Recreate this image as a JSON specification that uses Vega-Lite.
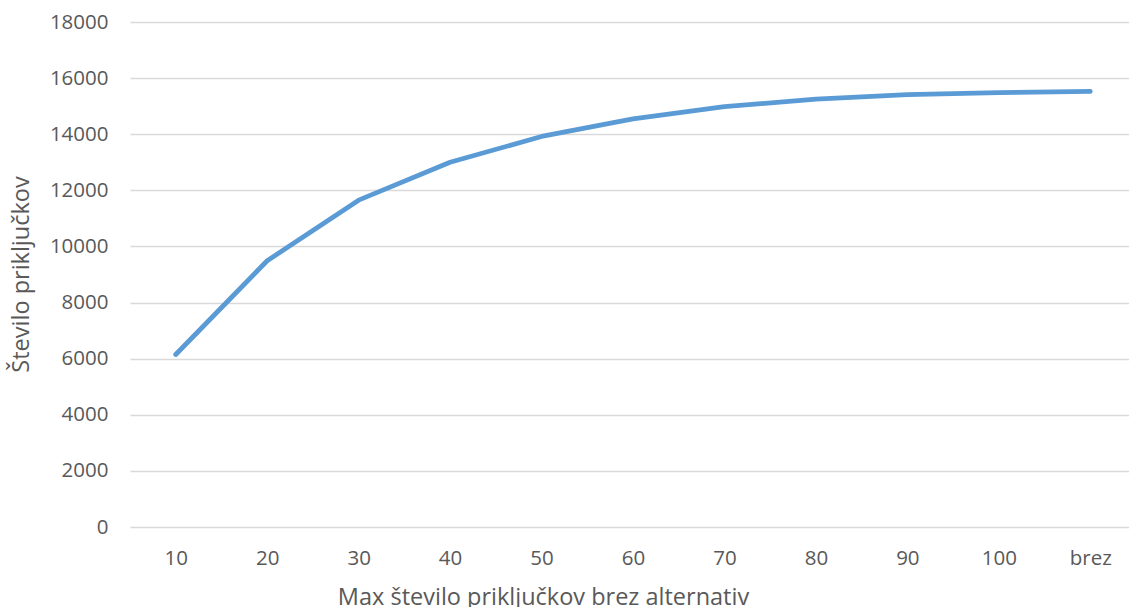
{
  "$schema": "https://vega.github.io/schema/vega-lite/v6.json",
  "autosize": "none",
  "width": 1006,
  "height": 505,
  "padding": {"left": 130, "top": 22, "right": 0, "bottom": 80},
  "background": "white",
  "config": {"view": {"stroke": null}},
  "data": {"values": [
    {"k": "10", "v": 6150},
    {"k": "20", "v": 9490},
    {"k": "30", "v": 11650},
    {"k": "40", "v": 13000},
    {"k": "50", "v": 13920},
    {"k": "60", "v": 14550},
    {"k": "70", "v": 14980},
    {"k": "80", "v": 15250},
    {"k": "90", "v": 15410},
    {"k": "100", "v": 15480},
    {"k": "brez", "v": 15525}
  ]},
  "mark": {"type": "line", "color": "#5B9BD5", "strokeWidth": 4.8, "strokeCap": "round", "strokeJoin": "round"},
  "encoding": {
    "x": {
      "field": "k", "type": "ordinal", "sort": null,
      "scale": {"type": "point", "padding": 0.5},
      "axis": {
        "title": "Max število priključkov brez alternativ",
        "labelAngle": 0, "labelFont": "Open Sans", "labelFontSize": 20.5, "labelColor": "#595959",
        "labelPadding": 21, "labelBaseline": "top",
        "domain": false, "ticks": false, "grid": false,
        "titleFont": "Open Sans", "titleFontSize": 23.5, "titleFontWeight": "normal", "titleColor": "#595959",
        "titleAnchor": "start", "titleAlign": "center", "titleX": 413, "titleY": 77, "titleBaseline": "alphabetic"
      }
    },
    "y": {
      "field": "v", "type": "quantitative",
      "scale": {"domain": [0, 18000], "nice": false},
      "axis": {
        "title": "Število priključkov",
        "values": [0, 2000, 4000, 6000, 8000, 10000, 12000, 14000, 16000, 18000],
        "format": "d",
        "labelFont": "Open Sans", "labelFontSize": 20.5, "labelColor": "#595959", "labelPadding": 22,
        "domain": false, "ticks": false,
        "grid": true, "gridColor": "#D9D9D9", "gridWidth": 1.5,
        "titleFont": "Open Sans", "titleFontSize": 23.5, "titleFontWeight": "normal", "titleColor": "#595959",
        "titleAnchor": "start", "titleAngle": -90, "titleAlign": "center", "titleBaseline": "middle", "titleX": -109, "titleY": 252
      }
    }
  }
}
